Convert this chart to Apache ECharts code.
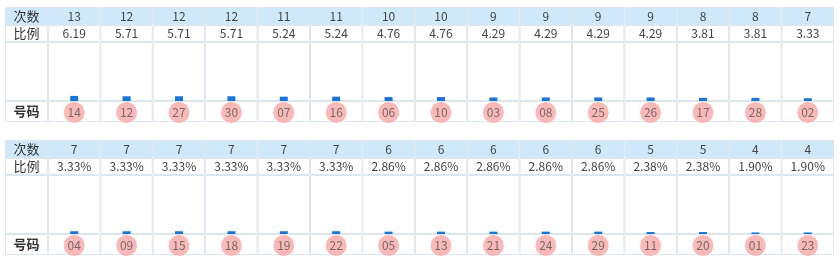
<!DOCTYPE html>
<html>
<head>
<meta charset="utf-8">
<script src="https://cdn.jsdelivr.net/npm/echarts@6/dist/echarts.min.js"></script>
<style>
html, body { margin: 0; padding: 0; background: #fff; }
#chart { width: 840px; height: 264px; }
</style>
</head>
<body>
<div id="chart"></div>
<script>
// row titles of the left column
const rowTitles = ['次数', '比例', '', '号码']

// first table
const nums1   = ['14', '12', '27', '30', '07', '16', '06', '10', '03', '08', '25', '26', '17', '28', '02']
const counts1 = [13, 12, 12, 12, 11, 11, 10, 10, 9, 9, 9, 9, 8, 8, 7]
const ratios1 = ['6.19', '5.71', '5.71', '5.71', '5.24', '5.24', '4.76', '4.76', '4.29', '4.29', '4.29', '4.29', '3.81', '3.81', '3.33']

// second table
const nums2   = ['04', '09', '15', '18', '19', '22', '05', '13', '21', '24', '29', '11', '20', '01', '23']
const counts2 = [7, 7, 7, 7, 7, 7, 6, 6, 6, 6, 6, 5, 5, 4, 4]
const ratios2 = ['3.33%', '3.33%', '3.33%', '3.33%', '3.33%', '3.33%', '2.86%', '2.86%', '2.86%', '2.86%', '2.86%', '2.38%', '2.38%', '1.90%', '1.90%']

const tables = [
  { nums: nums1, counts: counts1, ratios: ratios1 },
  { nums: nums2, counts: counts2, ratios: ratios2 },
]

//** layout */
const tops    = [7, 140]
const rowH    = [18, 17, 59, 21]
const total   = rowH.reduce((a, b) => a + b, 0)
const left    = 5
const headW   = 43
const right   = 6
const barMax  = 150
const font    = '"Noto Sans CJK SC", "Microsoft YaHei", sans-serif'
const line    = '#dce6ee'
const headBg  = '#cfe9fa'

const grid = [], xAxis = [], yAxis = [], series = []

tables.forEach((t, ti) => {
  const top = tops[ti]
  const gHead = grid.length, gBody = gHead + 1, gBar = gHead + 2
  grid.push(
    { left, top, width: headW, height: total },
    { left: left + headW, right, top, height: total },
    { left: left + headW, right, top: top + rowH[0] + rowH[1], height: rowH[2] },
  )
  xAxis.push(
    { gridIndex: gHead, type: 'category', data: ['h'], show: false },
    { gridIndex: gBody, type: 'category', data: t.nums, show: false },
    { gridIndex: gBar, type: 'category', data: t.nums, show: false },
  )
  yAxis.push(
    { gridIndex: gHead, type: 'value', min: 0, max: total, inverse: true, show: false },
    { gridIndex: gBody, type: 'value', min: 0, max: total, inverse: true, show: false },
    { gridIndex: gBar, type: 'value', min: 0, max: barMax, show: false },
  )

  // table cells, stacked rows
  rowH.forEach((h, r) => {
    series.push({
      type: 'bar',
      xAxisIndex: gHead, yAxisIndex: gHead,
      stack: 'head' + ti,
      barWidth: '100%',
      silent: true,
      z: 1,
      itemStyle: { color: r === 0 ? headBg : '#fff', borderColor: line, borderWidth: 1 },
      label: {
        show: true, position: 'inside',
        formatter: () => rowTitles[r],
        color: '#333', fontSize: 13, fontFamily: font,
        fontWeight: r === 3 ? 'bold' : 'normal',
      },
      data: [h],
    })
    series.push({
      type: 'bar',
      xAxisIndex: gBody, yAxisIndex: gBody,
      stack: 'body' + ti,
      barWidth: '100%',
      silent: true,
      z: 1,
      itemStyle: { color: r === 0 ? headBg : '#fff', borderColor: line, borderWidth: 1 },
      label: {
        show: r < 2, position: 'inside',
        formatter: p => r === 0 ? t.counts[p.dataIndex] : t.ratios[p.dataIndex],
        color: '#444', fontSize: 12, fontFamily: font,
      },
      data: t.nums.map(() => h),
    })
  })

  // small count bars
  series.push({
    type: 'bar',
    xAxisIndex: gBar, yAxisIndex: gBar,
    barWidth: 8,
    z: 3,
    itemStyle: { color: '#1a74d8' },
    data: t.counts,
  })

  // number balls
  const ballY = rowH[0] + rowH[1] + rowH[2] + rowH[3] / 2 + 1
  series.push({
    type: 'scatter',
    xAxisIndex: gBody, yAxisIndex: gBody,
    symbolSize: 21,
    z: 4,
    itemStyle: { color: '#f8a7a7' },
    label: {
      show: true, position: 'inside',
      formatter: p => p.value[0],
      color: '#555', fontSize: 12, fontFamily: font,
    },
    data: t.nums.map(n => [n, ballY]),
  })
})

const chart = echarts.init(document.getElementById('chart'))
chart.setOption({
  animation: false,
  textStyle: { fontFamily: font },
  grid, xAxis, yAxis, series,
})
</script>
</body>
</html>
